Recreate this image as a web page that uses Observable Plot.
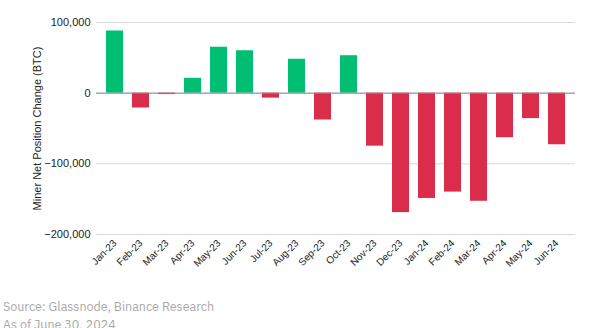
<!DOCTYPE html>
<html>
<head>
<meta charset="utf-8">
<script src="https://cdn.jsdelivr.net/npm/d3@7"></script>
<script src="https://cdn.jsdelivr.net/npm/@observablehq/plot@0.6"></script>
<style>
  body { margin: 0; background: #fff; }
  #caption { font-family: "IBM Plex Sans", "Noto Sans", sans-serif; font-size: 12.5px; color: #a9a9a9; line-height: 18px; margin-top: 5px; padding-left: 3px; }
</style>
</head>
<body>
<div id="chart"></div>
<div id="caption"><div>Source: Glassnode, Binance Research</div><div>As of June 30, 2024</div></div>
<script>
const months = ["Jan-23","Feb-23","Mar-23","Apr-23","May-23","Jun-23","Jul-23","Aug-23","Sep-23","Oct-23","Nov-23","Dec-23","Jan-24","Feb-24","Mar-24","Apr-24","May-24","Jun-24"];
const values = [88000,-21000,-2000,21000,65000,60000,-7000,48000,-38000,53000,-75000,-169000,-149000,-140000,-153000,-63000,-36000,-73000];
const yTicks = [100000, 0, -100000, -200000];

const data = months.map((m, i) => ({month: m, value: values[i]}));

const chart = Plot.plot({
  width: 607,
  height: 292,
  marginTop: 22,
  marginBottom: 58,
  marginLeft: 96,
  marginRight: 32,
  style: {fontFamily: "'Liberation Sans', Arial, sans-serif", fontSize: "10px", color: "#222"},
  x: {domain: months, padding: 0.36, label: null},
  y: {domain: [-200000, 100000], label: null},
  marks: [
    Plot.gridY(yTicks, {stroke: "#d9d9d9", strokeOpacity: 1}),
    Plot.barY(data, {x: "month", y: "value", fill: d => d.value >= 0 ? "#00BF72" : "#D92D4B"}),
    Plot.ruleY([0], {stroke: "#8a8a8a", strokeWidth: 1}),
    Plot.axisY(yTicks, {tickSize: 0, tickPadding: 6, tickFormat: d3.format(","), fontSize: 11,
      label: "Miner Net Position Change (BTC)", labelAnchor: "center", labelArrow: "none", labelOffset: 63}),
    Plot.axisX({tickSize: 0, tickRotate: -45, tickPadding: 7, fontSize: 10, label: null})
  ]
});
document.getElementById("chart").appendChild(chart);
</script>
</body>
</html>
